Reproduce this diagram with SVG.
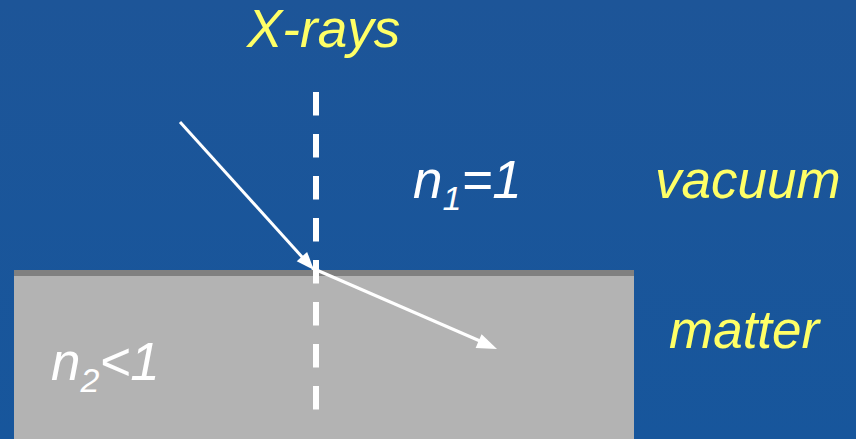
<svg xmlns="http://www.w3.org/2000/svg" width="856" height="439" viewBox="0 0 856 439">
<defs>
<linearGradient id="bg" x1="0" y1="0" x2="0" y2="1">
<stop offset="0" stop-color="#1d5598"/>
<stop offset="1" stop-color="#17569c"/>
</linearGradient>
<style>
.lbl{font-family:"Liberation Sans",Arial,sans-serif;font-style:italic;font-size:53px}
.yel{fill:#ffff66}
.wht{fill:#ffffff}
.ray{stroke:#ffffff;stroke-width:3;fill:none}
.head{fill:#ffffff}
</style>
</defs>
<rect width="856" height="439" fill="url(#bg)"/>
<g id="matter-block">
<rect x="14" y="270" width="620" height="169" fill="#b3b3b3"/>
<rect x="14" y="270" width="620" height="6" fill="#808080"/>
</g>
<g id="connectors">
<line id="normal" x1="316" y1="92" x2="316" y2="410" stroke="#ffffff" stroke-width="6" stroke-dasharray="23.5 18.5"/>
<path id="incident" class="ray" d="M180,122 L303,258"/>
<path class="head" d="M314,270 L296.7,261.3 L307.1,251.9 z"/>
<path id="refracted" class="ray" d="M312,268 L480,341"/>
<path class="head" d="M497,349 L475.6,348 L481.6,334.2 z"/>
</g>
<g id="labels">
<text class="lbl yel" x="247" y="47">X-rays</text>
<text class="lbl wht" x="413" y="198">n<tspan font-size="34" dy="12">1</tspan><tspan dy="-12">=1</tspan></text>
<text class="lbl yel" x="655" y="198">vacuum</text>
<text class="lbl yel" x="669" y="348">matter</text>
<text class="lbl wht" x="51" y="380">n<tspan font-size="34" dy="12">2</tspan><tspan dy="-12">&lt;1</tspan></text>
</g>
</svg>
